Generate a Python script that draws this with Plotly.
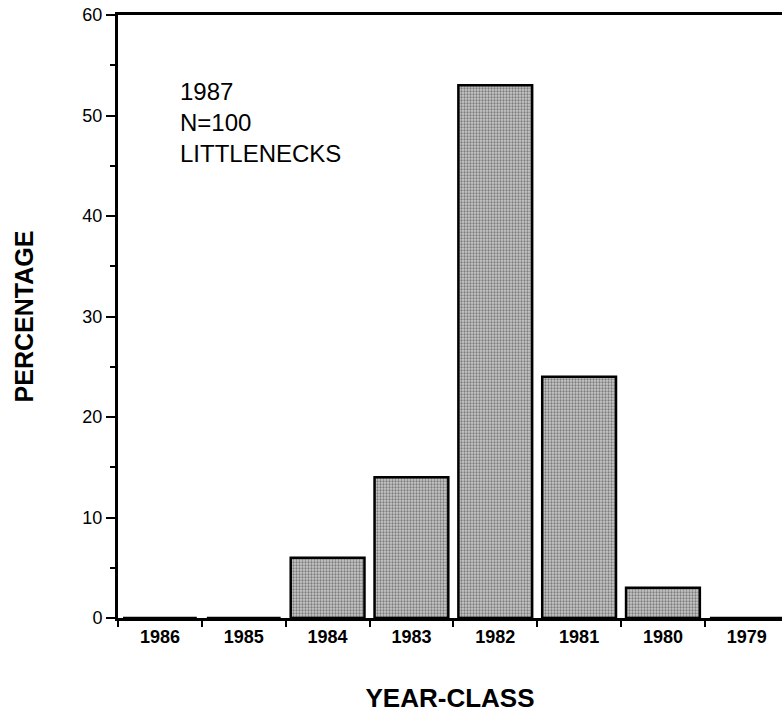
import plotly.graph_objects as go

year_classes = ["1986", "1985", "1984", "1983", "1982", "1981", "1980", "1979"]
percentages = [0, 0, 6, 14, 53, 24, 3, 0]
y_ticks = [0, 10, 20, 30, 40, 50, 60]

font_family = "Liberation Sans, Arial, Helvetica, sans-serif"

fig = go.Figure()
fig.add_trace(go.Bar(
    x=year_classes,
    y=percentages,
    marker=dict(
        color="#a8a8a8",
        line=dict(color="black", width=2.5),
        pattern=dict(shape=".", size=3, solidity=0.45, fgcolor="#303030", bgcolor="#c8c8c8"),
    ),
    showlegend=False,
))

fig.update_layout(
    width=783, height=721,
    margin=dict(l=118, r=1, t=15, b=103),
    paper_bgcolor="white", plot_bgcolor="white",
    bargap=0.12,
    font=dict(family=font_family, color="black"),
    xaxis=dict(
        type="category",
        range=[-0.5, 7.42],
        showline=True, linecolor="black", linewidth=3, mirror=True,
        ticks="outside", tickson="boundaries", ticklen=6, tickcolor="black", tickwidth=2,
        tickfont=dict(size=18, family=font_family, weight="bold"),
        showgrid=False, zeroline=False,
        title=dict(text="<b>YEAR-CLASS</b>", font=dict(size=26), standoff=44),
    ),
    yaxis=dict(
        range=[0, 60],
        tickvals=y_ticks,
        showline=True, linecolor="black", linewidth=3,
        ticks="outside", ticklen=9, tickcolor="black", tickwidth=2,
        minor=dict(dtick=5, ticks="outside", ticklen=5, tickcolor="black", tickwidth=1.5),
        tickfont=dict(size=18, family=font_family),
        showgrid=False, zeroline=False,
        title=dict(text="<b>PERCENTAGE</b>", font=dict(size=25), standoff=42),
    ),
)

fig.add_annotation(
    xref="paper", yref="paper", x=0.09, y=0.899, xanchor="left", yanchor="top",
    text="1987<br>N=100<br>LITTLENECKS", showarrow=False, align="left",
    font=dict(size=24, family=font_family, color="black"),
)

fig.write_html(
    "out.html",
    config={"displayModeBar": False},
    post_script="document.body.style.margin='0px';",
)
